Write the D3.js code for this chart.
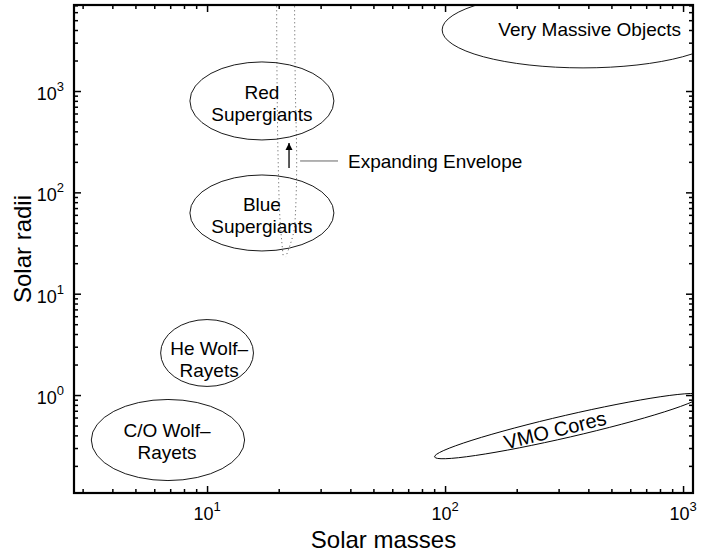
<!DOCTYPE html>
<html><head><meta charset="utf-8">
<script src="https://cdn.jsdelivr.net/npm/d3@7"></script>
<style>body{margin:0;background:#fff} text{font-family:"Liberation Sans",Arial,Helvetica,sans-serif;fill:#000}</style>
</head><body><svg id="c" width="702" height="554"></svg>
<script>
// ---- data ----
const regionNames   = ["Red Supergiants","Blue Supergiants","He Wolf-Rayets","C/O Wolf-Rayets","Very Massive Objects","VMO Cores"];
const regionLines   = [["Red","Supergiants"],["Blue","Supergiants"],["He Wolf\u2013","Rayets"],["C/O Wolf\u2013","Rayets"],["Very Massive Objects"],["VMO Cores"]];
const centerMass    = [17.0, 17.0, 10.0, 6.85, 380, 329];
const centerRadius  = [798, 62.6, 2.6, 0.36, 4010, 0.494];
const halfWidthDex  = [0.3025, 0.3025, 0.195, 0.322, 0.592, 0.576];
const halfHeightDex = [0.385, 0.375, 0.33, 0.40, 0.375, 0.109];
const tiltDeg       = [0, 0, 0, 0, 0, -13];
const labelMass     = [17.0, 17.0, 10.2, 6.79, 405, 290];
const labelRadius   = [755, 59.2, 2.24, 0.347, 4055, 0.451];
const labelTilt     = [0, 0, 0, 0, 0, -14];
const labelSize     = [19, 19, 19, 19, 19, 20];

const leftTrackMass    = [19.6, 19.7, 19.9, 20.3, 20.9];
const leftTrackRadius  = [9000, 1000, 200, 50, 23];
const rightTrackMass   = [23.3, 23.5, 23.8, 23.4, 21.4];
const rightTrackRadius = [9000, 1000, 200, 50, 23];

const arrowMass = 22.1, arrowFromRadius = 174, arrowToRadius = 307;
const envelopeLabel = "Expanding Envelope";
const leaderMass = [24.6, 35.5], leaderRadius = 204, envelopeLabelMass = 39.1;

const xMajor = [10, 100, 1000];
const xMinor = [3,4,5,6,7,8,9,20,30,40,50,60,70,80,90,200,300,400,500,600,700,800,900];
const yMajor = [1, 10, 100, 1000];
const yMinor = [0.2,0.3,0.4,0.5,0.6,0.7,0.8,0.9,2,3,4,5,6,7,8,9,20,30,40,50,60,70,80,90,200,300,400,500,600,700,800,900,2000,3000,4000,5000,6000,7000];
const xTitle = "Solar masses", yTitle = "Solar radii";

// ---- chart ----
const L = 74, R = 693, T = 5, B = 493;
const x = d3.scaleLog().domain([2.76, 1101]).range([L, R]);
const y = d3.scaleLog().domain([0.108, 7060]).range([B, T]);
const svg = d3.select("#c");

svg.append("defs").append("clipPath").attr("id","clip")
  .append("rect").attr("x",L).attr("y",T).attr("width",R-L).attr("height",B-T);
const mk = svg.select("defs").append("marker").attr("id","ah")
  .attr("viewBox","0 0 10 10").attr("refX",10).attr("refY",5)
  .attr("markerWidth",7).attr("markerHeight",8).attr("markerUnits","userSpaceOnUse")
  .attr("orient","auto");
mk.append("path").attr("d","M0,0L10,5L0,10Z").attr("fill","#000");

const plot = svg.append("g").attr("clip-path","url(#clip)");

// tracks (dotted)
const line = d3.line().x(d=>x(d[0])).y(d=>y(d[1])).curve(d3.curveMonotoneY);
plot.append("path").datum(leftTrackMass.map((m,i)=>[m,leftTrackRadius[i]]))
  .attr("d",line).attr("fill","none").attr("stroke","#555").attr("stroke-width",1).attr("stroke-dasharray","1,3");
plot.append("path").datum(rightTrackMass.map((m,i)=>[m,rightTrackRadius[i]]))
  .attr("d",line).attr("fill","none").attr("stroke","#555").attr("stroke-width",1).attr("stroke-dasharray","1,3");

// ellipses
regionNames.forEach((n,i)=>{
  const cx = x(centerMass[i]), cy = y(centerRadius[i]);
  const rx = x(centerMass[i]*Math.pow(10,halfWidthDex[i])) - cx;
  const ry = cy - y(centerRadius[i]*Math.pow(10,halfHeightDex[i]));
  plot.append("ellipse").attr("cx",cx).attr("cy",cy).attr("rx",rx).attr("ry",ry)
    .attr("transform",`rotate(${tiltDeg[i]},${cx},${cy})`)
    .attr("fill","none").attr("stroke","#000").attr("stroke-width",0.9);
  const lx = x(labelMass[i]), ly = y(labelRadius[i]);
  const fs = labelSize[i];
  const t = plot.append("text").attr("text-anchor","middle").attr("font-size",fs)
    .attr("transform",`translate(${lx},${ly}) rotate(${labelTilt[i]})`);
  const nL = regionLines[i].length;
  regionLines[i].forEach((s,j)=>{
    t.append("tspan").attr("x",0).attr("y",((j-(nL-1)/2)*1.15+0.35)*fs).text(s);
  });
});

// arrow + leader
plot.append("line").attr("x1",x(arrowMass)).attr("x2",x(arrowMass))
  .attr("y1",y(arrowFromRadius)).attr("y2",y(arrowToRadius))
  .attr("stroke","#000").attr("stroke-width",1.3).attr("marker-end","url(#ah)");
plot.append("line").attr("x1",x(leaderMass[0])).attr("x2",x(leaderMass[1]))
  .attr("y1",y(leaderRadius)).attr("y2",y(leaderRadius))
  .attr("stroke","#666").attr("stroke-width",1);
plot.append("text").attr("x",x(envelopeLabelMass)).attr("y",y(leaderRadius)).attr("dy","0.35em")
  .attr("font-size",19).text(envelopeLabel);

// axes (ticks inward on all sides)
function ax(gen, scale, vals, size, tx, ty){
  svg.append("g").attr("transform",`translate(${tx},${ty})`)
    .call(gen(scale).tickValues(vals).tickSize(size).tickFormat(""))
    .call(g=>{g.select(".domain").remove(); g.selectAll("line").attr("stroke","#000").attr("stroke-width",1.5);});
}
ax(d3.axisBottom, x, xMajor, -7, 0, B); ax(d3.axisBottom, x, xMinor, -4, 0, B);
ax(d3.axisTop, x, xMajor, -7, 0, T);    ax(d3.axisTop, x, xMinor, -4, 0, T);
ax(d3.axisLeft, y, yMajor, -7, L, 0);   ax(d3.axisLeft, y, yMinor, -4, L, 0);
ax(d3.axisRight, y, yMajor, -7, R, 0);  ax(d3.axisRight, y, yMinor, -4, R, 0);

svg.append("rect").attr("x",L).attr("y",T).attr("width",R-L).attr("height",B-T)
  .attr("fill","none").attr("stroke","#000").attr("stroke-width",2.2);

// tick labels
xMajor.forEach(v=>{
  const t = svg.append("text").attr("x",x(v)).attr("y",B+27).attr("text-anchor","middle").attr("font-size",18);
  t.append("tspan").text("10");
  t.append("tspan").attr("font-size",13).attr("dy",-9).text(Math.round(Math.log10(v)));
});
yMajor.forEach(v=>{
  const t = svg.append("text").attr("x",L-10).attr("y",y(v)+9).attr("text-anchor","end").attr("font-size",18);
  t.append("tspan").text("10");
  t.append("tspan").attr("font-size",13).attr("dy",-9).text(Math.round(Math.log10(v)));
});

svg.append("text").attr("x",(L+R)/2).attr("y",548).attr("text-anchor","middle").attr("font-size",24).text(xTitle);
svg.append("text").attr("transform",`translate(31,${(T+B)/2}) rotate(-90)`).attr("text-anchor","middle").attr("font-size",24).text(yTitle);
</script></body></html>
